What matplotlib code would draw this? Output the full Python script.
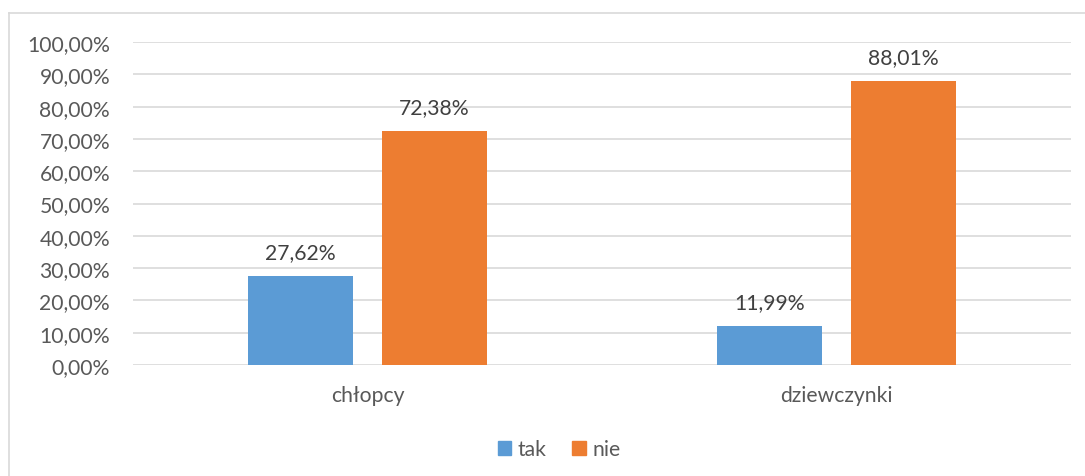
import matplotlib
matplotlib.use("Agg")
import matplotlib.pyplot as plt
import numpy as np
from matplotlib.patches import Patch
from matplotlib.lines import Line2D

categories = ["chłopcy", "dziewczynki"]
series_names = ["tak", "nie"]
tak_values = [27.62, 11.99]
nie_values = [72.38, 88.01]
y_ticks = [0, 10, 20, 30, 40, 50, 60, 70, 80, 90, 100]

colors = ["#5B9BD5", "#ED7D31"]
text_color = "#595959"
grid_color = "#D9D9D9"

plt.rcParams['font.family'] = ['Lato', 'DejaVu Sans']
FS = 15.2

W, H = 1085, 477
fig = plt.figure(figsize=(W/100, H/100), dpi=100)

# plot area in pixels
left, right, top, bottom = 133, 1071, 43, 366
ax = fig.add_axes([left/W, 1 - bottom/H, (right-left)/W, (bottom-top)/H])

x = np.arange(len(categories))
bw = 0.224
off = 0.143
ax.bar(x - off, tak_values, width=bw, color=colors[0], zorder=3)
ax.bar(x + off, nie_values, width=bw, color=colors[1], zorder=3)

def fmt(v):
    return f"{v:.2f}%".replace(".", ",")

for xi, v in zip(x - off, tak_values):
    ax.text(xi, v + 7.4, fmt(v), ha="center", va="center", fontsize=FS, color="#404040")
for xi, v in zip(x + off, nie_values):
    ax.text(xi, v + 7.4, fmt(v), ha="center", va="center", fontsize=FS, color="#404040")

ax.set_xlim(-0.5, len(categories) - 0.5)
ax.set_ylim(0, 100)
ax.set_yticks(y_ticks)
ax.set_yticklabels([fmt(t) for t in y_ticks], fontsize=FS, color=text_color)
ax.set_xticks(x)
ax.set_xticklabels(categories, fontsize=FS, color=text_color)
ax.tick_params(axis="both", length=0)
ax.tick_params(axis="y", pad=16.5)
ax.tick_params(axis="x", pad=14.5)
ax.grid(axis="y", color=grid_color, linewidth=1.2, zorder=0)
for s in ax.spines.values():
    s.set_visible(False)

# chart border (top and left visible)
fig.add_artist(Line2D([9/W, 1.0], [1 - 14/H, 1 - 14/H], color="#D9D9D9", linewidth=1.2))
fig.add_artist(Line2D([9/W, 9/W], [1 - 14/H, 0], color="#D9D9D9", linewidth=1.2))

handles = [Patch(color=c, label=n) for c, n in zip(colors, series_names)]
leg = fig.legend(handles=handles, loc="center", bbox_to_anchor=(559/W, 1 - 450/H), ncol=2,
                 frameon=False, fontsize=FS, handlelength=0.65, handleheight=0.65,
                 handletextpad=0.3, columnspacing=1.2)
for t in leg.get_texts():
    t.set_color(text_color)

fig.savefig("out.png", dpi=100)
